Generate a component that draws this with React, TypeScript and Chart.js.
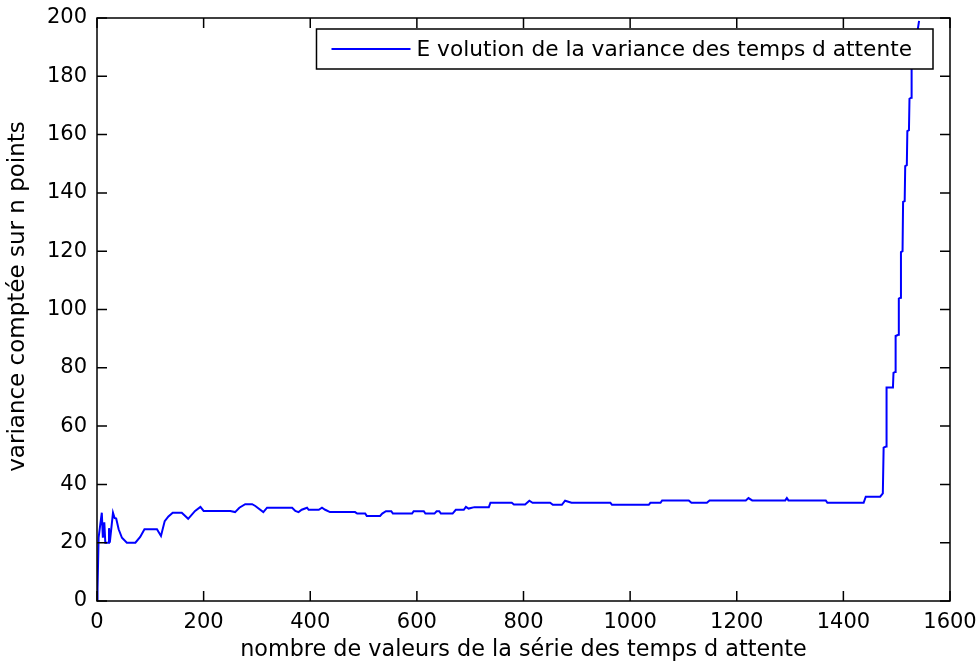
import { useEffect, useRef } from "react";
import { Chart, registerables } from "chart.js";

Chart.register(...registerables);

// n (number of values in the series)
const nValues = [
  1, 1, 3, 9, 11, 13.7, 15.6, 21, 22.5, 24, 30, 33, 36, 40.6, 46.8, 56, 72, 81, 89, 112.5,
  120, 127, 134, 142, 159, 171, 184, 194, 200, 250, 259, 267, 278, 291, 297, 312, 319, 366,
  372, 378, 384, 394, 397, 416, 422, 428, 437, 484, 488, 503, 506, 531, 535, 542, 552, 555,
  591, 594, 613, 616, 633, 637, 642, 645, 667, 673, 688, 692, 697, 708, 735, 738, 778, 782,
  803, 811, 817, 850, 855, 872, 878, 890, 963, 966, 1035, 1038, 1057, 1060, 1110, 1115, 1144,
  1149, 1217, 1222, 1229, 1291, 1294, 1297, 1367, 1370, 1438, 1442, 1469, 1474, 1475.5, 1480,
  1481, 1493, 1494, 1497, 1498, 1503, 1504, 1507, 1508, 1511, 1512, 1515, 1516, 1519, 1520,
  1523, 1524, 1527, 1528, 1542,
];

// variance computed over n points
const variances = [
  0, 4, 21.7, 30.3, 21.7, 27, 20, 20, 25, 20, 30.3, 28.5, 28.3, 24.6, 21.7, 20, 20, 22, 24.6, 24.6,
  22.3, 27.4, 29, 30.3, 30.3, 28.2, 30.9, 32.3, 30.9, 30.9, 30.5, 32, 33.2, 33.2, 32.6, 30.5, 32, 32,
  30.9, 30.5, 31.3, 32, 31.3, 31.3, 32, 31.3, 30.5, 30.5, 30, 30, 29.2, 29.2, 30, 30.8, 30.8, 30,
  30, 30.8, 30.8, 30, 30, 30.8, 30.8, 30, 30, 31.3, 31.3, 32.3, 31.7, 32.2, 32.2, 33.7, 33.7, 33.1,
  33.1, 34.4, 33.7, 33.7, 33, 33, 34.4, 33.7, 33.7, 33, 33, 33.7, 33.7, 34.5, 34.5, 33.7, 33.7,
  34.5, 34.5, 35.3, 34.5, 34.5, 35.3, 34.5, 34.5, 33.7, 33.7, 35.8, 35.8, 36.9, 52.6, 53,
  73.2, 73.2, 78.3, 78.6, 90.9, 91.3, 103.7, 104, 119.7, 120, 136.9, 137.2, 149.2, 149.5, 161.2,
  161.5, 172.3, 172.6, 182.4, 199,
];

const xTickValues = [0, 200, 400, 600, 800, 1000, 1200, 1400, 1600];
const yTickValues = [0, 20, 40, 60, 80, 100, 120, 140, 160, 180, 200];

const seriesLabel = "E volution de la variance des temps d attente";
const xTitle = "nombre de valeurs de la série des temps d attente";
const yTitle = "variance comptée sur n points";

const FONT = "'DejaVu Sans', sans-serif";
const LINE_COLOR = "#0000ff";

const matlabPlugin = {
  id: "matlabBox",
  afterDraw(chart: any) {
    const { ctx, chartArea: a, scales } = chart;
    ctx.save();
    // y axis title (rotated)
    ctx.font = `23px ${FONT}`;
    ctx.fillStyle = "#000";
    ctx.textAlign = "center";
    ctx.textBaseline = "middle";
    ctx.save();
    ctx.translate(18, (a.top + a.bottom) / 2 - 13);
    ctx.rotate(-Math.PI / 2);
    ctx.fillText(yTitle, 0, 0);
    ctx.restore();

    // legend box inside the axes (north-east)
    ctx.font = `21.7px ${FONT}`;
    const tw = ctx.measureText(seriesLabel).width;
    const padL = 15, sample = 79, gap = 6, padR = 21, h = 40;
    const w = padL + sample + gap + tw + padR;
    const lx = a.right - 17 - w;
    const ly = a.top + 11;
    ctx.fillStyle = "#fff";
    ctx.fillRect(lx, ly, w, h);
    ctx.strokeStyle = "#000";
    ctx.lineWidth = 1.5;
    ctx.strokeRect(lx, ly, w, h);
    ctx.strokeStyle = LINE_COLOR;
    ctx.lineWidth = 2;
    ctx.beginPath();
    ctx.moveTo(lx + padL, ly + h / 2);
    ctx.lineTo(lx + padL + sample, ly + h / 2);
    ctx.stroke();
    ctx.fillStyle = "#000";
    ctx.textBaseline = "middle";
    ctx.textAlign = "left";
    ctx.fillText(seriesLabel, lx + padL + sample + gap, ly + h / 2 + 1);

    // axes box and inward ticks on all four sides
    ctx.strokeStyle = "#000";
    ctx.lineWidth = 1.5;
    ctx.strokeRect(a.left, a.top, a.right - a.left, a.bottom - a.top);
    ctx.beginPath();
    for (const v of xTickValues) {
      const x = scales.x.getPixelForValue(v);
      ctx.moveTo(x, a.bottom);
      ctx.lineTo(x, a.bottom - 10);
      ctx.moveTo(x, a.top);
      ctx.lineTo(x, a.top + 10);
    }
    for (const v of yTickValues) {
      const y = scales.y.getPixelForValue(v);
      ctx.moveTo(a.left, y);
      ctx.lineTo(a.left + 10, y);
      ctx.moveTo(a.right, y);
      ctx.lineTo(a.right - 10, y);
    }
    ctx.stroke();
    ctx.restore();
  },
};

export default function App() {
  const canvasRef = useRef<HTMLCanvasElement | null>(null);

  useEffect(() => {
    if (!canvasRef.current) return;
    const chart = new Chart(canvasRef.current, {
      type: "line",
      data: {
        datasets: [
          {
            label: seriesLabel,
            data: nValues.map((x, i) => ({ x, y: variances[i] })),
            borderColor: LINE_COLOR,
            borderWidth: 2,
            pointRadius: 0,
            tension: 0,
            fill: false,
          },
        ],
      },
      options: {
        responsive: false,
        animation: false,
        layout: { padding: { top: 18, right: 29, left: 0, bottom: 0 } },
        plugins: {
          legend: { display: false },
          tooltip: { enabled: false },
        },
        scales: {
          x: {
            type: "linear",
            min: 0,
            max: 1600,
            afterBuildTicks: (s: any) => {
              s.ticks = xTickValues.map((value) => ({ value }));
            },
            afterFit: (s: any) => {
              s.height = 63;
              s.paddingLeft = 0;
              s.paddingRight = 0;
            },
            grid: { display: false, drawTicks: false },
            border: { display: false },
            ticks: {
              color: "#000",
              font: { family: FONT, size: 21 },
              padding: 9,
              maxRotation: 0,
              autoSkip: false,
              callback: (v: any) => String(v),
            },
            title: {
              display: true,
              text: xTitle,
              color: "#000",
              font: { family: FONT, size: 22.3 },
              padding: { top: 0, bottom: 0 },
            },
          },
          y: {
            type: "linear",
            min: 0,
            max: 200,
            afterBuildTicks: (s: any) => {
              s.ticks = yTickValues.map((value) => ({ value }));
            },
            afterFit: (s: any) => {
              s.width = 97;
              s.paddingTop = 0;
              s.paddingBottom = 0;
            },
            grid: { display: false, drawTicks: false },
            border: { display: false },
            ticks: {
              color: "#000",
              font: { family: FONT, size: 21 },
              padding: 10,
              autoSkip: false,
              callback: (v: any) => String(v),
            },
            title: { display: false },
          },
        },
      },
      plugins: [matlabPlugin],
    });
    return () => chart.destroy();
  }, []);

  return (
    <div style={{ position: "fixed", left: 0, top: 0, width: 979, height: 664, background: "#fff" }}>
      <canvas ref={canvasRef} width={979} height={664} style={{ display: "block" }} />
    </div>
  );
}
